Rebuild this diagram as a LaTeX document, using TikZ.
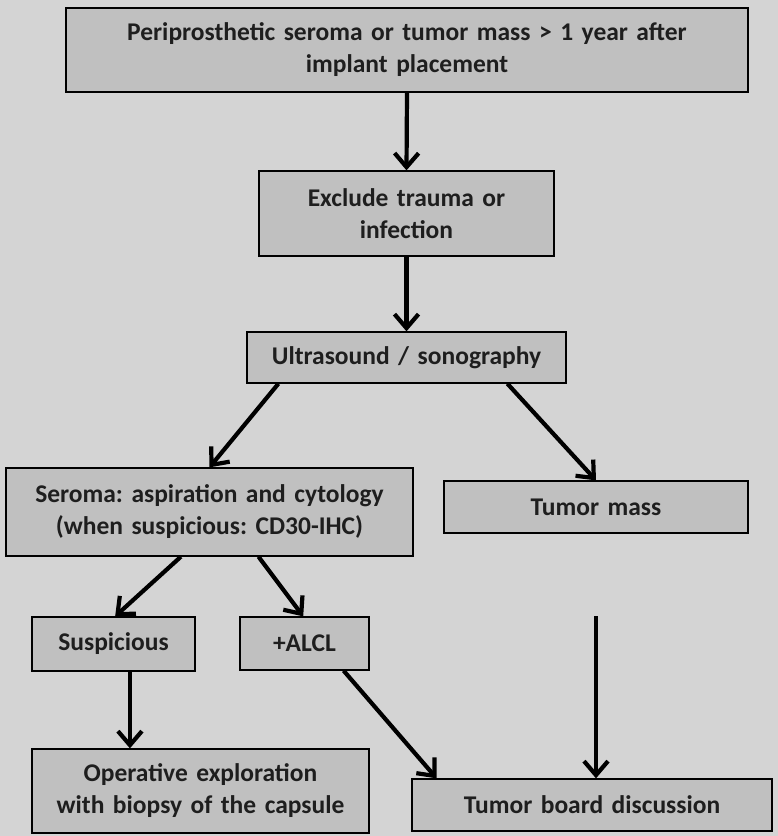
\documentclass[tikz,border=0pt]{standalone}
\usepackage{fontspec}
\setmainfont{Carlito}
\usetikzlibrary{arrows.meta,calc}
\definecolor{bgc}{HTML}{D4D4D4}
\definecolor{boxc}{HTML}{C0C0C0}
\definecolor{txt}{HTML}{1E1E1E}
\frenchspacing
\begin{document}
\begin{tikzpicture}[x=1pt,y=-1pt,
  box/.style={draw=black,line width=1.3pt,fill=boxc,inner sep=0pt,align=center,
    font=\fontsize{25.5}{32}\selectfont\bfseries\frenchspacing,text=txt},
  arr/.style={line width=4.2pt,-{Straight Barb[length=14pt,width=24pt,line width=4.2pt]}}]
\fill[bgc] (0,0) rectangle (778,836);
\useasboundingbox (0,0) rectangle (778,836);
\node[box,minimum width=682pt,minimum height=84pt,text width=670pt] (top) at (407,50)
  {Periprosthetic seroma or tumor mass > 1 year after\\implant placement};
\node[box,minimum width=295pt,minimum height=85pt,text width=285pt] (excl) at (406.5,213.5)
  {Exclude trauma or\\infection};
\node[box,minimum width=319pt,minimum height=51pt,text width=310pt] (ultra) at (406.5,357.5)
  {Ultrasound / sonography};
\node[box,minimum width=407pt,minimum height=88pt,text width=400pt] (sero) at (209.5,512)
  {Seroma: aspiration and cytology\\(when suspicious: CD30-IHC)};
\node[box,minimum width=304pt,minimum height=52pt,text width=290pt] (tmass) at (596,507)
  {Tumor mass};
\node[box,minimum width=163pt,minimum height=54pt,text width=155pt] (susp) at (113.5,644)
  {Suspicious};
\node[box,minimum width=129pt,minimum height=53pt,text width=120pt] (alcl) at (304.5,643.5)
  {+ALCL};
\node[box,minimum width=337pt,minimum height=84pt,text width=330pt] (oper) at (200.5,791)
  {Operative exploration\\with biopsy of the capsule};
\node[box,minimum width=360pt,minimum height=52pt,text width=340pt] (tb) at (592,805)
  {Tumor board discussion};
\coordinate (free) at (596,616);
\draw[arr] (top.south) -- (excl.north);
\draw[arr] (excl.south) -- (ultra.north);
\draw[arr] ($(ultra.south west)!0.10!(ultra.south east)$) -- ($(sero.north west)!0.50!(sero.north east)$);
\draw[arr] ($(ultra.south west)!0.815!(ultra.south east)$) -- ($(tmass.north west)!0.50!(tmass.north east)$);
\draw[arr] ($(sero.south west)!0.43!(sero.south east)$) -- ($(susp.north west)!0.51!(susp.north east)$);
\draw[arr] ($(sero.south west)!0.62!(sero.south east)$) -- ($(alcl.north west)!0.49!(alcl.north east)$);
\coordinate (sb) at ($(susp.south west)!0.6!(susp.south east)$);
\draw[arr] (sb) -- (sb |- oper.north);
\draw[arr] ($(alcl.south west)!0.8!(alcl.south east)$) -- ($(tb.north west)!0.07!(tb.north east)$);
\draw[arr] (free) -- (free |- tb.north);
\end{tikzpicture}
\end{document}
